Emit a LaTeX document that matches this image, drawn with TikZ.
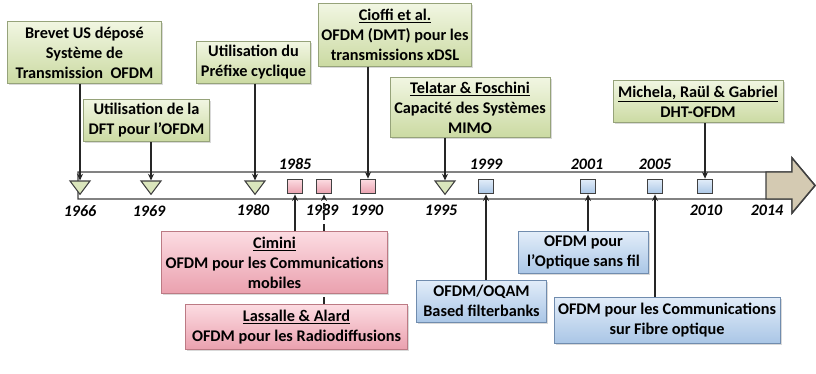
\documentclass[tikz,border=0pt]{standalone}
\usepackage{fontspec}
\setmainfont{Carlito}
\usepackage{tikz}
\usetikzlibrary{arrows.meta,shapes.geometric,shadows}
\definecolor{frame}{RGB}{64,64,64}
\definecolor{greenT}{RGB}{241,246,226}
\definecolor{greenB}{RGB}{203,218,162}
\definecolor{greenD}{RGB}{150,163,122}
\definecolor{pinkT}{RGB}{252,220,226}
\definecolor{pinkB}{RGB}{234,160,174}
\definecolor{pinkD}{RGB}{188,122,132}
\definecolor{blueT}{RGB}{226,237,249}
\definecolor{blueB}{RGB}{170,198,230}
\definecolor{blueD}{RGB}{112,140,174}
\definecolor{headT}{RGB}{212,202,178}

\begin{document}
\begin{tikzpicture}[x=0.75pt, y=-0.75pt, >={Stealth[length=5pt,width=4.5pt]},
  box/.style={rectangle, draw, line width=0.6pt, align=center, inner sep=2pt, font=\fontsize{12.2}{15}\selectfont\bfseries, drop shadow={shadow xshift=1.2pt, shadow yshift=-1.2pt, opacity=0.3}},
  boxG/.style={box, draw=greenD, top color=greenT, bottom color=greenB},
  boxP/.style={box, draw=pinkD, top color=pinkT, bottom color=pinkB},
  boxB/.style={box, draw=blueD, top color=blueT, bottom color=blueB},
  tri/.style={isosceles triangle, isosceles triangle apex angle=75, isosceles triangle stretches, shape border rotate=270, draw=frame, line width=0.8pt, fill=greenT!40!greenB, inner sep=0pt, minimum width=15pt, minimum height=10pt},
  sq/.style={rectangle, draw=frame, line width=0.8pt, inner sep=0pt, minimum size=11pt},
  sqP/.style={sq, top color=pinkT, bottom color=pinkB},
  sqB/.style={sq, top color=blueT, bottom color=blueB},
  yr/.style={font=\fontsize{12}{14}\selectfont\bfseries\itshape, inner sep=1pt},
  conn/.style={->, line width=1.1pt, draw=black!85},
  dconn/.style={conn, dash pattern=on 5pt off 3pt}]
  \useasboundingbox (0,0) rectangle (816,374);

  \draw[frame, line width=1.1pt, fill=white] (78,172) -- (792,172) -- (792,158) -- (815,185.5) -- (792,213) -- (792,199) -- (78,199) -- cycle;
  \draw[frame, line width=1.1pt, fill=headT] (766,172) -- (792,172) -- (792,158) -- (815,185.5) -- (792,213) -- (792,199) -- (766,199) -- cycle;

  \node[tri] (m66) at (80,186) {};
  \node[tri] (m69) at (151,186) {};
  \node[tri] (m80) at (255,186) {};
  \node[tri] (m95) at (445,186) {};
  \node[sqP] (m85) at (295,186.5) {};
  \node[sqP] (m89) at (324,186.5) {};
  \node[sqP] (m90) at (368,186.5) {};
  \node[sqB] (m99) at (486,186.5) {};
  \node[sqB] (m01) at (588,186.5) {};
  \node[sqB] (m05) at (655,186.5) {};
  \node[sqB] (m10) at (705,186.5) {};

  \node[yr] (t85) at (295,164) {1985};
  \node[yr] (t99) at (486,164) {1999};
  \node[yr] (t01) at (587,164) {2001};
  \node[yr] (t05) at (655,164) {2005};
  \node[yr] (t66) at (80,211) {1966};
  \node[yr] (t69) at (149,211) {1969};
  \node[yr] (t80) at (253,210) {1980};
  \node[yr] (t89) at (322,210) {1989};
  \node[yr] (t90) at (367,210) {1990};
  \node[yr] (t95) at (441,210) {1995};
  \node[yr] (t10) at (706,210) {2010};
  \node[yr] (t14) at (767,210) {2014};

  \node[boxG, minimum width=116pt, minimum height=46.5pt] (brevet) at (84.5,52.5) {Brevet US déposé\\ Système de\\ Transmission\ \ OFDM};
  \node[boxG, minimum width=95pt, minimum height=32pt] (dft) at (146.5,120.5) {Utilisation de la\\ DFT pour l'OFDM};
  \node[boxG, minimum width=85pt, minimum height=31pt] (prefixe) at (253.5,62.5) {Utilisation du\\ Préfixe cyclique};
  \node[boxG, minimum width=114pt, minimum height=47pt] (cioffi) at (395,35) {\underline{Cioffi et al.}\\ OFDM (DMT) pour les\\ transmissions xDSL};
  \node[boxG, minimum width=120pt, minimum height=45pt] (telatar) at (470,107.5) {\underline{Telatar \& Foschini}\\ Capacité des Systèmes\\ MIMO};
  \node[boxG, minimum width=127.5pt, minimum height=32pt] (michela) at (698,101.5) {\underline{Michela, Raül \& Gabriel}\\ DHT-OFDM};
  \node[boxP, minimum width=169pt, minimum height=47pt] (cimini) at (274.5,262.5) {\underline{Cimini}\\ OFDM pour les Communications\\ mobiles};
  \node[boxP, minimum width=166pt, minimum height=34pt] (lassalle) at (296.5,327) {\underline{Lassalle \& Alard}\\ OFDM pour les Radiodiffusions};
  \node[boxB, minimum width=97pt, minimum height=31.5pt] (oqam) at (481.5,301) {OFDM/OQAM\\ Based filterbanks};
  \node[boxB, minimum width=97pt, minimum height=31pt] (optique) at (583.5,252.5) {OFDM pour\\ l'Optique sans fil};
  \node[boxB, minimum width=169.5pt, minimum height=34.5pt] (fibre) at (667,320) {OFDM pour les Communications\\ sur Fibre optique};

  \draw[conn] (m66 |- brevet.south) -- (m66);
  \draw[conn] (m69 |- dft.south) -- (m69);
  \draw[conn] (m80 |- prefixe.south) -- (m80);
  \draw[conn] (m90 |- cioffi.south) -- (m90);
  \draw[conn] (m95 |- telatar.south) -- (m95);
  \draw[conn] (m10 |- michela.south) -- (m10);
  \draw[conn] (m85 |- cimini.north) -- (m85);
  \draw[dconn, -] (m89 |- lassalle.north) -- (m89 |- cimini.south);
  \draw[dconn] (m89 |- cimini.north) -- (m89);
  \draw[conn] (m99 |- oqam.north) -- (m99);
  \draw[conn] (m01 |- optique.north) -- (m01);
  \draw[conn] (m05 |- fibre.north) -- (m05);
\end{tikzpicture}
\end{document}
